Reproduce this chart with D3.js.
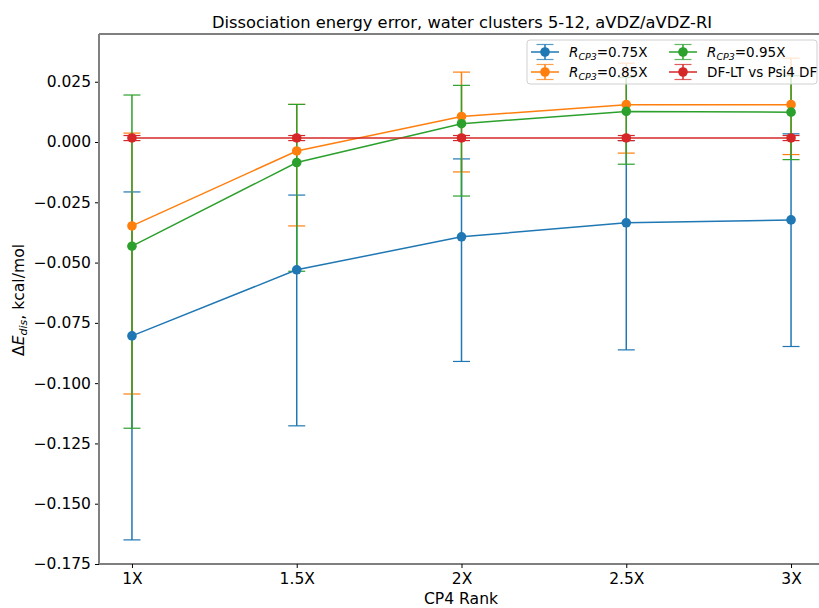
<!DOCTYPE html>
<html>
<head>
<meta charset="utf-8">
<script src="https://cdn.jsdelivr.net/npm/d3@7"></script>
<style>
  html, body { margin: 0; padding: 0; background: #fff; }
  svg { display: block; font-family: "DejaVu Sans", sans-serif; }
</style>
</head>
<body>
<svg id="chart" width="819" height="608"></svg>
<script>
// CP4 rank categories (x positions in rank units)
const rankLabels = ["1X", "1.5X", "2X", "2.5X", "3X"];
const rankValues = [1, 1.5, 2, 2.5, 3];

// Mean dissociation-energy error (kcal/mol) and error-bar extents per series
const meanR075 = [-0.0804, -0.0530, -0.0393, -0.0335, -0.0323];
const lowR075  = [-0.1650, -0.1177, -0.0910, -0.0862, -0.0848];
const highR075 = [-0.0207, -0.0220, -0.0070,  0.0006,  0.0034];

const meanR085 = [-0.0348, -0.0037, 0.0106, 0.0155, 0.0155];
const lowR085  = [-0.1045, -0.0348, -0.0124, -0.0046, -0.0052];
const highR085 = [ 0.0037,  0.0156, 0.0290, 0.0327, 0.0348];

const meanR095 = [-0.0432, -0.0085, 0.0076, 0.0127, 0.0124];
const lowR095  = [-0.1187, -0.0536, -0.0224, -0.0092, -0.0073];
const highR095 = [ 0.0195,  0.0156, 0.0235, 0.0268, 0.0275];

const meanDF = [0.0017, 0.0017, 0.0017, 0.0017, 0.0017];
const lowDF  = [0.0006, 0.0006, 0.0006, 0.0006, 0.0006];
const highDF = [0.0027, 0.0027, 0.0027, 0.0027, 0.0027];

const yTicks = [0.025, 0.000, -0.025, -0.050, -0.075, -0.100, -0.125, -0.150, -0.175];

const series = [
  { key: "r075", sub: "0.75X", color: "#1f77b4", mean: meanR075, low: lowR075, high: highR075 },
  { key: "r085", sub: "0.85X", color: "#ff7f0e", mean: meanR085, low: lowR085, high: highR085 },
  { key: "r095", sub: "0.95X", color: "#2ca02c", mean: meanR095, low: lowR095, high: highR095 },
  { key: "df",   label: "DF-LT vs Psi4 DF", color: "#d62728", mean: meanDF, low: lowDF, high: highDF }
];

const svg = d3.select("#chart");
const plot = { left: 99, right: 824, top: 34, bottom: 564 };

const x = d3.scaleLinear().domain([0.9, 3.1]).range([plot.left, plot.right]);
const y = d3.scaleLinear().domain([-0.175, 0.0448]).range([plot.bottom, plot.top]);

const fmt = v => (v < 0 ? "\u2212" : "") + d3.format(".3f")(Math.abs(v));

// Axes
const yAxis = d3.axisLeft(y).tickValues(yTicks).tickFormat(fmt).tickSize(4).tickPadding(4);
const gy = svg.append("g").attr("transform", `translate(${plot.left},0)`).call(yAxis);
gy.select(".domain").remove();
gy.selectAll("text").attr("font-size", 15.5).attr("fill", "#000").attr("font-family", "DejaVu Sans");
gy.selectAll("line").attr("stroke", "#000");

const xAxis = d3.axisBottom(x).tickValues(rankValues).tickFormat((d, i) => rankLabels[i]).tickSize(4).tickPadding(5);
const gx = svg.append("g").attr("transform", `translate(0,${plot.bottom})`).call(xAxis);
gx.select(".domain").remove();
gx.selectAll("text").attr("font-size", 15.5).attr("fill", "#000").attr("font-family", "DejaVu Sans");
gx.selectAll("line").attr("stroke", "#000");

// Spines
svg.append("line").attr("x1", plot.left).attr("x2", plot.right).attr("y1", plot.top).attr("y2", plot.top)
  .attr("stroke", "#000").attr("stroke-width", 1.1);
svg.append("line").attr("x1", plot.left).attr("x2", plot.right).attr("y1", plot.bottom).attr("y2", plot.bottom)
  .attr("stroke", "#000").attr("stroke-width", 1.1);
svg.append("line").attr("x1", plot.left).attr("x2", plot.left).attr("y1", plot.top).attr("y2", plot.bottom)
  .attr("stroke", "#808080").attr("stroke-width", 2);

const plotG = svg.append("g");
const capHalf = 8.5;

// Error bars (drawn beneath all data lines)
series.forEach(s => {
  const g = plotG.append("g").attr("class", "err-" + s.key);
  rankValues.forEach((r, i) => {
    const cx = x(r);
    g.append("line").attr("x1", cx).attr("x2", cx).attr("y1", y(s.low[i])).attr("y2", y(s.high[i]))
      .attr("stroke", s.color).attr("stroke-width", 1.5);
    [s.low[i], s.high[i]].forEach(v => {
      g.append("line").attr("x1", cx - capHalf).attr("x2", cx + capHalf).attr("y1", y(v)).attr("y2", y(v))
        .attr("stroke", s.color).attr("stroke-width", 1.2);
    });
  });
});

// Data lines and markers
const line = d3.line().x((d, i) => x(rankValues[i])).y(d => y(d));
series.forEach(s => {
  const g = plotG.append("g").attr("class", "data-" + s.key);
  g.append("path").attr("d", line(s.mean)).attr("fill", "none").attr("stroke", s.color).attr("stroke-width", 1.5);
  g.selectAll("circle").data(s.mean).join("circle")
    .attr("cx", (d, i) => x(rankValues[i])).attr("cy", d => y(d)).attr("r", 4.8).attr("fill", s.color);
});

// Title and axis labels
svg.append("text").attr("x", 462).attr("y", 28).attr("text-anchor", "middle")
  .attr("font-size", 16.3).attr("fill", "#000").text("Dissociation energy error, water clusters 5-12, aVDZ/aVDZ-RI");

svg.append("text").attr("x", 461).attr("y", 604).attr("text-anchor", "middle")
  .attr("font-size", 15.6).attr("fill", "#000").text("CP4 Rank");

const yl = svg.append("text").attr("transform", "translate(24,300) rotate(-90)").attr("text-anchor", "middle")
  .attr("font-size", 15.6).attr("fill", "#000");
yl.append("tspan").text("\u0394");
yl.append("tspan").attr("font-style", "italic").text("E");
yl.append("tspan").attr("font-style", "italic").attr("font-size", 11).attr("dy", 3).text("dis");
yl.append("tspan").attr("dy", -3).text(", kcal/mol");

// Legend
const lg = svg.append("g");
lg.append("rect").attr("x", 527).attr("y", 40).attr("width", 290).attr("height", 44).attr("rx", 3)
  .attr("fill", "#fff").attr("fill-opacity", 0.8).attr("stroke", "#d0d0d0").attr("stroke-width", 1);

const legendPos = [
  { hx: 531, tx: 569, ty: 52 },
  { hx: 531, tx: 569, ty: 72 },
  { hx: 669, tx: 707, ty: 52 },
  { hx: 669, tx: 707, ty: 72 }
];
series.forEach((s, k) => {
  const p = legendPos[k];
  const g = lg.append("g");
  const mx = p.hx + 14;
  g.append("line").attr("x1", p.hx).attr("x2", p.hx + 28).attr("y1", p.ty).attr("y2", p.ty)
    .attr("stroke", s.color).attr("stroke-width", 1.5);
  g.append("line").attr("x1", mx).attr("x2", mx).attr("y1", p.ty - 7.5).attr("y2", p.ty + 7.5)
    .attr("stroke", s.color).attr("stroke-width", 1.5);
  [-7.5, 7.5].forEach(d => g.append("line").attr("x1", mx - 8.5).attr("x2", mx + 8.5)
    .attr("y1", p.ty + d).attr("y2", p.ty + d).attr("stroke", s.color).attr("stroke-width", 1.2).attr("stroke-opacity", 0.75));
  g.append("circle").attr("cx", mx).attr("cy", p.ty).attr("r", 4.8).attr("fill", s.color);
  const t = g.append("text").attr("x", p.tx).attr("y", p.ty + 5).attr("font-size", 13.5).attr("fill", "#000");
  if (s.label) {
    t.text(s.label);
  } else {
    t.append("tspan").attr("font-style", "italic").text("R");
    t.append("tspan").attr("font-style", "italic").attr("font-size", 9.5).attr("dy", 3).text("CP3");
    t.append("tspan").attr("dy", -3).text("=" + s.sub);
  }
});
</script>
</body>
</html>
